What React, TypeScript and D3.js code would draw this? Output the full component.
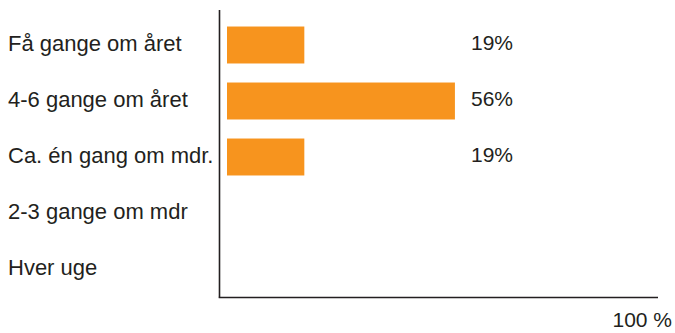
import React from "react";
import * as d3 from "d3";

const categories = [
  "Få gange om året",
  "4-6 gange om året",
  "Ca. én gang om mdr.",
  "2-3 gange om mdr",
  "Hver uge",
];
const values = [19, 56, 19, 0, 0];
const valueLabels = ["19%", "56%", "19%", "", ""];
const axisMaxLabel = "100 %";

const W = 675;
const H = 333;
const FONT = "'Liberation Sans', Arial, Helvetica, sans-serif";
const TEXT = "#231f20";
const ORANGE = "#f7941e";

export default function App() {
  const x = d3.scaleLinear().domain([0, 100]).range([227, 634]);
  const y = d3
    .scaleBand<string>()
    .domain(categories)
    .range([17, 297])
    .paddingInner(0.34)
    .paddingOuter(0.17);

  const axisX = 219.5;
  const axisY = 297.5;

  return (
    <svg
      width={W}
      height={H}
      style={{ position: "absolute", left: 0, top: 0, display: "block", background: "#fff" }}
      fontFamily={FONT}
    >
      {categories.map((c, i) => (
        <g key={c}>
          <text
            x={8}
            y={(y(c) ?? 0) + y.bandwidth() / 2}
            dy="0.26em"
            fontSize={22}
            fill={TEXT}
          >
            {c}
          </text>
          {values[i] > 0 && (
            <rect
              x={x(0)}
              y={y(c)}
              width={x(values[i]) - x(0)}
              height={y.bandwidth()}
              fill={ORANGE}
            />
          )}
          {valueLabels[i] && (
            <text
              x={471}
              y={(y(c) ?? 0) + y.bandwidth() / 2}
              dy="0.26em"
              fontSize={21}
              fill={TEXT}
            >
              {valueLabels[i]}
            </text>
          )}
        </g>
      ))}
      <line x1={axisX} x2={axisX} y1={10} y2={axisY} stroke={TEXT} strokeWidth={1.6} />
      <line x1={axisX - 0.8} x2={658} y1={axisY} y2={axisY} stroke={TEXT} strokeWidth={1.6} />
      <text x={672} y={327} textAnchor="end" fontSize={21} fill={TEXT}>
        {axisMaxLabel}
      </text>
    </svg>
  );
}
